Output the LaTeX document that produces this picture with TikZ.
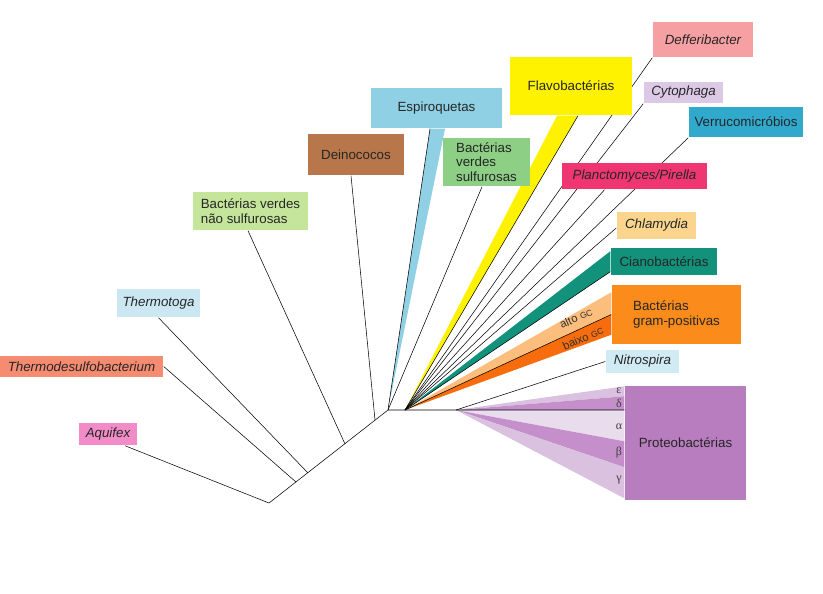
\documentclass[tikz,border=0pt]{standalone}
\usepackage{fontspec}
\setmainfont{Liberation Sans}
\newfontfamily\grkfont{Liberation Serif}
\usetikzlibrary{calc,backgrounds}

\definecolor{cAquifex}{HTML}{F28CC8}
\definecolor{cThermo}{HTML}{F58B70}
\definecolor{cToga}{HTML}{CBE8F2}
\definecolor{cVerdNao}{HTML}{C5E59B}
\definecolor{cDeino}{HTML}{B8774A}
\definecolor{cEspiro}{HTML}{8FD0E4}
\definecolor{cVerdSulf}{HTML}{8CCF85}
\definecolor{cFlavo}{HTML}{FFF200}
\definecolor{cDeffer}{HTML}{F7A0A3}
\definecolor{cCyto}{HTML}{DCC9E6}
\definecolor{cVerruco}{HTML}{30A9CC}
\definecolor{cPlancto}{HTML}{EF3673}
\definecolor{cChlamy}{HTML}{FBD58D}
\definecolor{cCiano}{HTML}{12917B}
\definecolor{cGram}{HTML}{FB8C1C}
\definecolor{cAlto}{HTML}{FBBE7D}
\definecolor{cBaixo}{HTML}{F76C0C}
\definecolor{cNitro}{HTML}{D0EBF3}
\definecolor{cProteo}{HTML}{B87DBE}
\definecolor{cPrLight}{HTML}{DAC1DF}
\definecolor{cPrMid}{HTML}{C48FCB}
\definecolor{cPrPale}{HTML}{E9DCEC}

\begin{document}
\begin{tikzpicture}[x=0.75pt,y=-0.75pt,line width=1.1pt,line join=round,
  tag/.style={inner sep=0pt,font=\fontsize{10}{11}\selectfont,text=black!85},
  grk/.style={inner sep=0pt,font=\grkfont\fontsize{9}{10}\selectfont,text=black!75},
  gc/.style={inner sep=0pt,rotate=24,text=black!80,font=\fontsize{8.5}{9}\selectfont}]
\useasboundingbox (0,0) rectangle (823,593);

\coordinate (root) at (269,503);
\coordinate (j1) at (296,482);
\coordinate (j2) at (308,473);
\coordinate (j3) at (345,444);
\coordinate (j4) at (375,420);
\coordinate (hub) at (388,410);
\coordinate (fan) at (405,410);
\coordinate (pj) at (456,410);

\node[tag,fill=cAquifex,minimum width=43.5pt,minimum height=16.5pt] (aquifex) at (108,434) {\itshape Aquifex};
\node[tag,fill=cThermo,minimum width=122.25pt,minimum height=15.75pt] (thermo) at (81.5,366.5) {\itshape Thermodesulfobacterium};
\node[tag,fill=cToga,minimum width=62.25pt,minimum height=21pt] (toga) at (158.5,303) {\itshape Thermotoga};
\node[tag,fill=cVerdNao,minimum width=86.25pt,minimum height=28.5pt,align=left] (verdnao) at (250.5,211) {Bactérias verdes\\não sulfurosas};
\node[tag,fill=cDeino,minimum width=72pt,minimum height=30.75pt] (deino) at (356,154.5) {Deinococos};
\node[tag,fill=cEspiro,minimum width=98.25pt,minimum height=30pt] (espiro) at (436.5,108) {Espiroquetas};
\node[tag,fill=cVerdSulf,minimum width=65.25pt,minimum height=36pt,align=left] (verdsulf) at (486.5,162) {Bactérias\\verdes\\sulfurosas};
\node[tag,fill=cFlavo,minimum width=91.5pt,minimum height=43.5pt] (flavo) at (571,86) {Flavobactérias};
\node[tag,fill=cDeffer,minimum width=75pt,minimum height=26.25pt] (deffer) at (703,39.5) {\itshape Defferibacter};
\node[tag,fill=cCyto,minimum width=59.25pt,minimum height=15.75pt] (cyto) at (683.5,92.5) {\itshape Cytophaga};
\node[tag,fill=cVerruco,minimum width=85.5pt,minimum height=22.5pt] (verruco) at (746,122) {Verrucomicróbios};
\node[tag,fill=cPlancto,minimum width=108.75pt,minimum height=19.5pt] (plancto) at (634.5,176) {\itshape Planctomyces/Pirella};
\node[tag,fill=cChlamy,minimum width=59.25pt,minimum height=20.25pt] (chlamy) at (656.5,225.5) {\itshape Chlamydia};
\node[tag,fill=cCiano,minimum width=79.5pt,minimum height=20.25pt] (ciano) at (664,261.5) {Cianobactérias};
\node[tag,fill=cGram,minimum width=96.75pt,minimum height=44.25pt,align=left] (gram) at (676.5,314.5) {Bactérias\\gram-positivas};
\node[tag,fill=cNitro,minimum width=54.75pt,minimum height=17.25pt] (nitro) at (642.5,361.5) {\itshape Nitrospira};
\node[tag,fill=cProteo,minimum width=90.75pt,minimum height=85.5pt] (proteo) at (685.5,443) {Proteobactérias};

\node[gc] (alto) at (576,318) {alto {\fontsize{6.5}{7}\selectfont GC}};
\node[gc] (baixo) at (583,338) {baixo {\fontsize{6.5}{7}\selectfont GC}};

\node[grk] (eps) at (619,391) {ε};
\node[grk] (del) at (619,403) {δ};
\node[grk] (alp) at (619,427) {α};
\node[grk] (bet) at (619,453) {β};
\node[grk] (gam) at (619,480) {γ};

\begin{scope}[on background layer]
\fill[cEspiro] (hub) -- ($(espiro.south)+(-6.5,0)$) -- ($(espiro.south)+(8.5,0)$) -- cycle;
\fill[cFlavo] (fan) -- ($(flavo.south)+(-14,0)$) -- ($(flavo.south)+(7,0)$) -- cycle;
\fill[cCiano] (fan) -- ($(ciano.north west)+(0,4)$) -- ($(ciano.south west)+(0,-4)$) -- cycle;
\fill[cAlto] (fan) -- ($(gram.north west)+(0,8)$) -- (gram.west) -- cycle;
\fill[cBaixo] (fan) -- (gram.west) -- ($(gram.south west)+(0,-10)$) -- cycle;
\fill[cPrLight] (pj) -- ($(proteo.north west)+(0,1)$) -- ($(proteo.north west)+(0,11)$) -- cycle;
\fill[cPrMid] (pj) -- ($(proteo.north west)+(0,11)$) -- (proteo.west |- pj) -- cycle;
\fill[cPrPale] (pj) -- (proteo.west |- pj) -- ($(proteo.north west)+(0,56)$) -- cycle;
\fill[cPrMid] (pj) -- ($(proteo.north west)+(0,56)$) -- ($(proteo.north west)+(0,82)$) -- cycle;
\fill[cPrLight] (pj) -- ($(proteo.north west)+(0,82)$) -- ($(proteo.north west)+(0,113)$) -- cycle;

\draw (root) -- (hub) -- (proteo.west |- hub);
\draw (root) -- ($(aquifex.south)+(17,0)$);
\draw (j1) -- (thermo.east);
\draw (j2) -- (toga.south);
\draw (j3) -- ($(verdnao.south)+(-2.5,0)$);
\draw (j4) -- ($(deino.south)+(-5,0)$);
\draw (hub) -- ($(espiro.south)+(-6.5,0)$);
\draw (hub) -- ($(verdsulf.south)+(-4.5,0)$);
\draw (fan) -- ($(flavo.south)+(7,0)$);
\draw (fan) -- (deffer.south west);
\draw (fan) -- (cyto.south west);
\draw (fan) -- (verruco.south west);
\draw (fan) -- ($(plancto.south)+(-30,0)$);
\draw (fan) -- ($(chlamy.west)+(0,2.5)$);
\draw (fan) -- ($(ciano.south west)+(0,-4)$);
\draw (fan) -- (gram.west);
\draw (pj) -- (nitro.west);
\end{scope}
\end{tikzpicture}
\end{document}
